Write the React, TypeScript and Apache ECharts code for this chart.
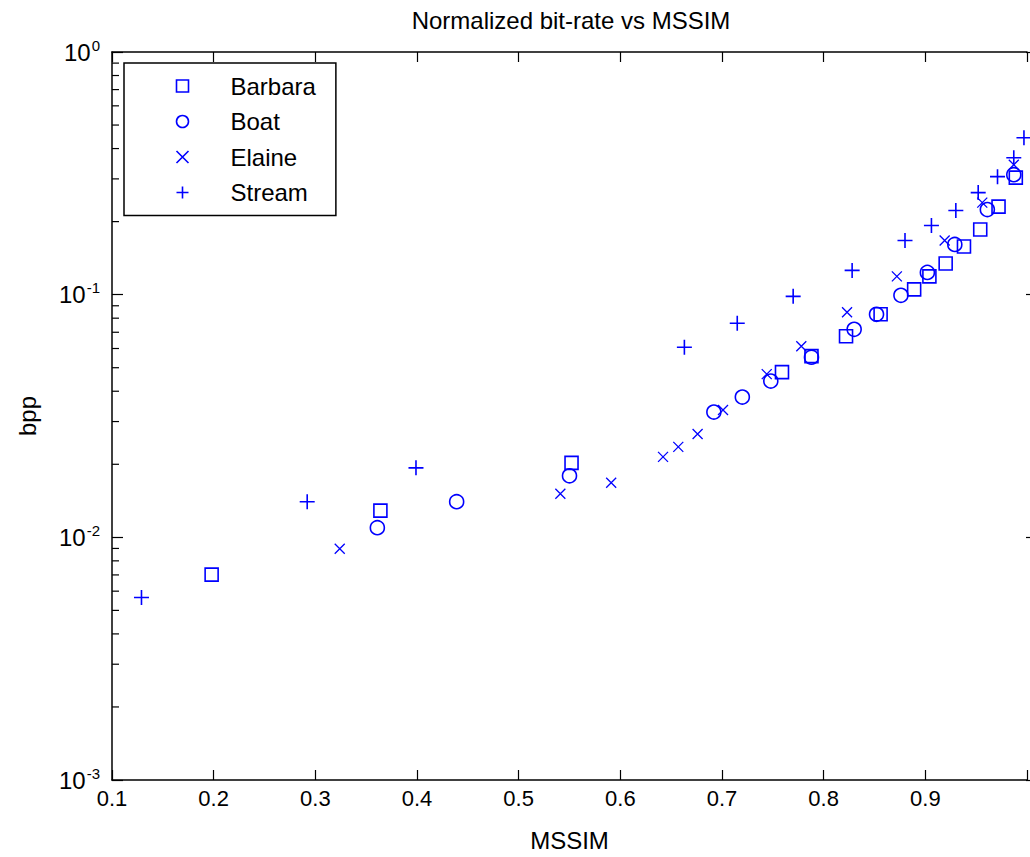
import React, { useEffect, useRef } from 'react';
import * as echarts from 'echarts';

const TITLE = 'Normalized bit-rate vs MSSIM';
const X_LABEL = 'MSSIM';
const Y_LABEL = 'bpp';
const X_MIN = 0.1;
const X_MAX = 1.0;
const X_INTERVAL = 0.1;
const Y_MIN = 0.001;
const Y_MAX = 1;
const MINOR_TICKS = [
  0.002, 0.003, 0.004, 0.005, 0.006, 0.007, 0.008, 0.009,
  0.02, 0.03, 0.04, 0.05, 0.06, 0.07, 0.08, 0.09,
  0.2, 0.3, 0.4, 0.5, 0.6, 0.7, 0.8, 0.9,
];

const SERIES_NAMES = ['Barbara', 'Boat', 'Elaine', 'Stream'];

const barbaraX = [0.198, 0.364, 0.552, 0.759, 0.788, 0.822, 0.856, 0.889, 0.904, 0.920, 0.938, 0.954, 0.972, 0.989];
const barbaraY = [0.00702, 0.01288, 0.02027, 0.04795, 0.0558, 0.06742, 0.08302, 0.10517, 0.11894, 0.13449, 0.15797, 0.18555, 0.23067, 0.30352];

const boatX = [0.361, 0.439, 0.550, 0.692, 0.720, 0.748, 0.788, 0.830, 0.852, 0.876, 0.902, 0.929, 0.961, 0.987];
const boatY = [0.01096, 0.01402, 0.01792, 0.03284, 0.03785, 0.04404, 0.05527, 0.07202, 0.08302, 0.09936, 0.12354, 0.16098, 0.22424, 0.31226];

const elaineX = [0.324, 0.541, 0.591, 0.642, 0.657, 0.676, 0.701, 0.744, 0.778, 0.823, 0.872, 0.919, 0.956, 0.987];
const elaineY = [0.00898, 0.01512, 0.01678, 0.02146, 0.02359, 0.02667, 0.03347, 0.04706, 0.06132, 0.08461, 0.11894, 0.1672, 0.23954, 0.34321];

const streamX = [0.129, 0.292, 0.399, 0.663, 0.715, 0.770, 0.828, 0.880, 0.906, 0.930, 0.952, 0.971, 0.987, 0.997];
const streamY = [0.00565, 0.01402, 0.01933, 0.06074, 0.07623, 0.09842, 0.12589, 0.1672, 0.1927, 0.22213, 0.26338, 0.3064, 0.3667, 0.4431];

const BLUE = '#0000ff';
const FONT = '"Liberation Sans", Arial, Helvetica, sans-serif';

const SYMBOLS = [
  'rect',
  'circle',
  'path://M0,0L10,10M10,0L0,10',
  'path://M5,0L5,10M0,5L10,5',
];
const SYMBOL_SIZES = [13, 14, 10, 15];

const zip = (xs: number[], ys: number[]) => xs.map((x, i) => [x, ys[i]]);

export default function App() {
  const ref = useRef<HTMLDivElement>(null);

  useEffect(() => {
    if (!ref.current) return;
    const chart = echarts.init(ref.current, undefined, { renderer: 'svg' });

    const datasets = [
      zip(barbaraX, barbaraY),
      zip(boatX, boatY),
      zip(elaineX, elaineY),
      zip(streamX, streamY),
    ];

    const scatterSeries = SERIES_NAMES.map((name, i) => ({
      name,
      type: 'scatter',
      xAxisIndex: 0,
      yAxisIndex: 0,
      data: datasets[i],
      symbol: SYMBOLS[i],
      symbolSize: SYMBOL_SIZES[i],
      symbolKeepAspect: true,
      itemStyle: {
        color: 'none',
        borderColor: BLUE,
        borderWidth: i === 2 ? 1.3 : 1.6,
        opacity: 1,
      },
      emphasis: { disabled: true },
      z: 3,
    }));

    const minorTickSeries = {
      name: 'minorTicks',
      type: 'custom',
      xAxisIndex: 0,
      yAxisIndex: 0,
      silent: true,
      clip: false,
      data: MINOR_TICKS.map((v) => [X_MIN, v]),
      encode: { x: 0, y: 1 },
      renderItem: (params: any, api: any) => {
        const p = api.coord([api.value(0), api.value(1)]);
        return {
          type: 'line',
          shape: { x1: p[0], y1: p[1], x2: p[0] + 7, y2: p[1] },
          style: { stroke: '#000', lineWidth: 1.2 },
        };
      },
      z: 4,
    };

    const yLabelFormatter = (v: number) => {
      const e = Math.round(Math.log10(v));
      return '{b|10}{s|' + e + '}';
    };

    chart.setOption({
      animation: false,
      backgroundColor: '#fff',
      title: {
        text: TITLE,
        left: 571,
        top: 8,
        padding: 0,
        textAlign: 'center',
        textStyle: { fontFamily: FONT, fontSize: 24, fontWeight: 'normal', color: '#000' },
      },
      grid: { left: 112, top: 52, width: 918, height: 730, containLabel: false },
      legend: {
        orient: 'vertical',
        left: 124,
        top: 63,
        padding: [11, 20, 11, 50],
        itemWidth: 12,
        itemHeight: 12,
        itemGap: 11.5,
        borderColor: '#000',
        borderWidth: 1.5,
        borderRadius: 0,
        backgroundColor: '#fff',
        selectedMode: false,
        textStyle: { fontFamily: FONT, fontSize: 24, color: '#000', padding: [0, 0, 0, 37], lineHeight: 24 },
        data: SERIES_NAMES.map((n, i) => ({
          name: n,
          icon: SYMBOLS[i],
          itemStyle: { color: 'none', borderColor: BLUE, borderWidth: 1.6 },
        })),
      },
      xAxis: [
        {
          type: 'value',
          min: X_MIN,
          max: X_MAX,
          interval: X_INTERVAL,
          position: 'bottom',
          name: X_LABEL,
          nameLocation: 'middle',
          nameGap: 48,
          nameTextStyle: { fontFamily: FONT, fontSize: 24, color: '#000' },
          axisLine: { show: true, lineStyle: { color: '#000', width: 1.5 } },
          axisTick: { show: true, inside: true, length: 10, lineStyle: { color: '#000', width: 1.2 } },
          axisLabel: {
            fontFamily: FONT,
            fontSize: 22,
            color: '#000',
            margin: 7,
            formatter: (v: number) => (v >= 0.999 ? '' : v.toFixed(1)),
          },
          splitLine: { show: false },
        },
        {
          type: 'value',
          min: X_MIN,
          max: X_MAX,
          interval: X_INTERVAL,
          position: 'top',
          axisLine: { show: true, lineStyle: { color: '#000', width: 1.5 } },
          axisTick: { show: true, inside: true, length: 10, lineStyle: { color: '#000', width: 1.2 } },
          axisLabel: { show: false },
          splitLine: { show: false },
        },
      ],
      yAxis: [
        {
          type: 'log',
          logBase: 10,
          min: Y_MIN,
          max: Y_MAX,
          position: 'left',
          name: Y_LABEL,
          nameLocation: 'middle',
          nameGap: 73,
          nameTextStyle: { fontFamily: FONT, fontSize: 24, color: '#000' },
          axisLine: { show: true, lineStyle: { color: '#000', width: 1.5 } },
          axisTick: { show: true, inside: true, length: 11, lineStyle: { color: '#000', width: 1.2 } },
          axisLabel: {
            margin: 12,
            formatter: yLabelFormatter,
            rich: {
              b: { fontFamily: FONT, fontSize: 24, color: '#000' },
              s: { fontFamily: FONT, fontSize: 15, color: '#000', padding: [0, 0, 14, 1] },
            },
          },
          splitLine: { show: false },
        },
        {
          type: 'log',
          logBase: 10,
          min: Y_MIN,
          max: Y_MAX,
          position: 'right',
          offset: 10,
          axisLine: { show: true, lineStyle: { color: '#000', width: 1.5 } },
          axisTick: { show: true, inside: true, length: 11, lineStyle: { color: '#000', width: 1.2 } },
          axisLabel: { show: false },
          splitLine: { show: false },
        },
      ],
      series: [...scatterSeries, minorTickSeries],
    });

    return () => chart.dispose();
  }, []);

  return (
    <div
      ref={ref}
      style={{ position: 'absolute', left: 0, top: 0, width: 1030, height: 857, background: '#fff' }}
    />
  );
}
